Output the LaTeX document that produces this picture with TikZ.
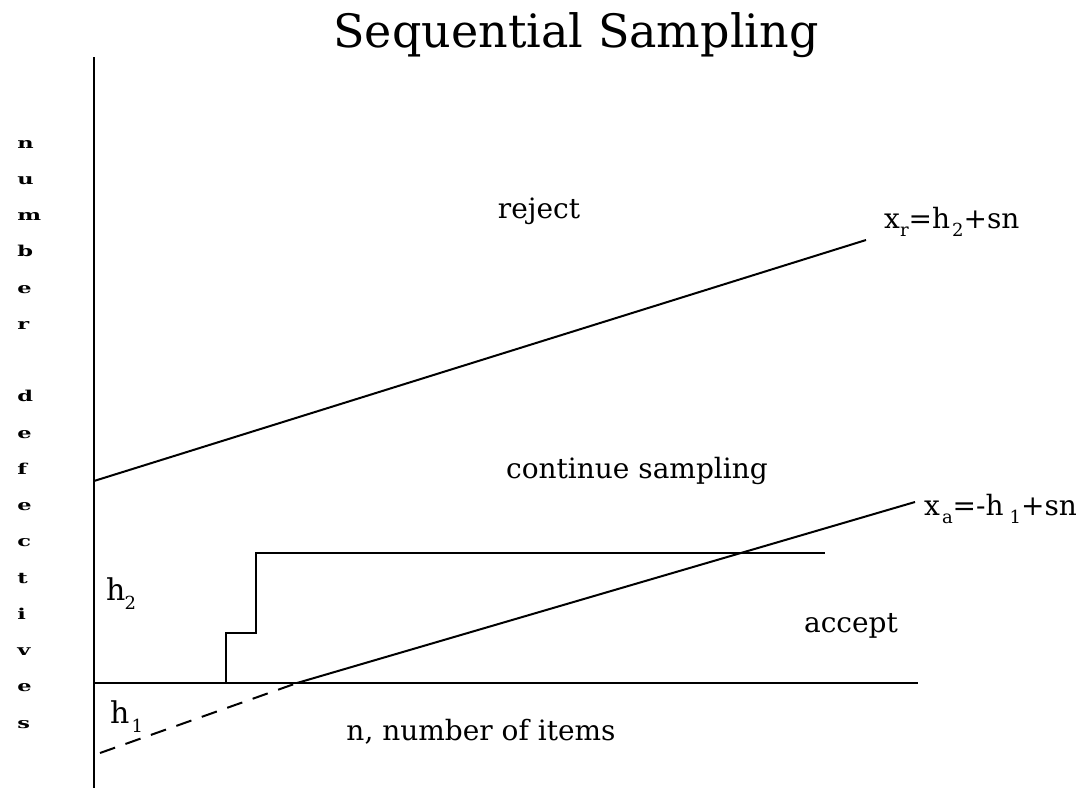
\documentclass[tikz,border=0pt]{standalone}
\usepackage{fontspec}
\setmainfont{DejaVu Serif}
\newcommand\mysub[1]{\raisebox{-0.32em}{\fontsize{18}{18}\selectfont #1}}
\tikzset{
  axisline/.style={line width=2.2pt, line cap=rect},
  graphline/.style={line width=2pt},
  dashpart/.style={line width=2pt, dash pattern=on 16pt off 11pt},
  lbl/.style={inner sep=0pt, font=\fontsize{28}{28}\selectfont, anchor=base},
  formula/.style={inner sep=0pt, font=\fontsize{28}{28}\selectfont, anchor=base west},
  ylet/.style={inner sep=0pt, font=\fontsize{15}{15}\selectfont\bfseries, xscale=1.5, anchor=base west},
}
\begin{document}
\begin{tikzpicture}[x=1pt,y=-1pt]
\useasboundingbox (0,0) rectangle (1081,787);
% title
\node[inner sep=0pt, anchor=base, font=\fontsize{46}{46}\selectfont] (title) at (576,47) {Sequential Sampling};
% axes
\coordinate (ytop) at (94,58);
\coordinate (ybot) at (94,787);
\coordinate (orig) at (94,683);
\coordinate (xend) at (917,683);
\draw[axisline] (ytop) -- (ybot);
\draw[axisline] (orig) -- (xend);
% rejection line
\coordinate (r0) at (94,481);
\coordinate (r1) at (866,240);
\draw[graphline] (r0) -- (r1);
% acceptance line
\coordinate (a0) at (100,753);
\coordinate (a1) at (297,683);
\coordinate (a2) at (915,502);
\draw[dashpart] (a0) -- (a1);
\draw[graphline] (a1) -- (a2);
% sample path
\coordinate (s0) at (226,683);
\coordinate (s1) at (226,633);
\coordinate (s2) at (256,633);
\coordinate (s3) at (256,553);
\coordinate (s4) at (825,553);
\draw[graphline] (s0) -- (s1) -- (s2) -- (s3) -- (s4);
% region labels
\node[lbl] (rej) at (539,218) {reject};
\node[lbl] (cont) at (637,478) {continue sampling};
\node[lbl] (acc) at (851,632) {accept};
\node[lbl] (nlab) at (481,740) {n, number of items};
% h labels
\node[inner sep=0pt, anchor=base west, font=\fontsize{30}{30}\selectfont] (h2) at (106,600) {h\kern-1pt\mysub{2}};
\node[inner sep=0pt, anchor=base west, font=\fontsize{30}{30}\selectfont] (h1) at (110,723) {h\kern2pt\mysub{1}};
% formulas
\node[formula] (xr) at (884,228) {x\mysub{r}=h\kern2pt\mysub{2}+sn};
\node[formula] (xa) at (924,515) {x\kern2pt\mysub{a}=-h\kern6pt\mysub{1}+sn};
% y-axis label
\foreach \ch [count=\k from 0] in {n,u,m,b,e,r,{},d,e,f,e,c,t,i,v,e,s} {
  \node[ylet] (yl\k) at (17,148+36.25*\k) {\ch};
}
\end{tikzpicture}
\end{document}
